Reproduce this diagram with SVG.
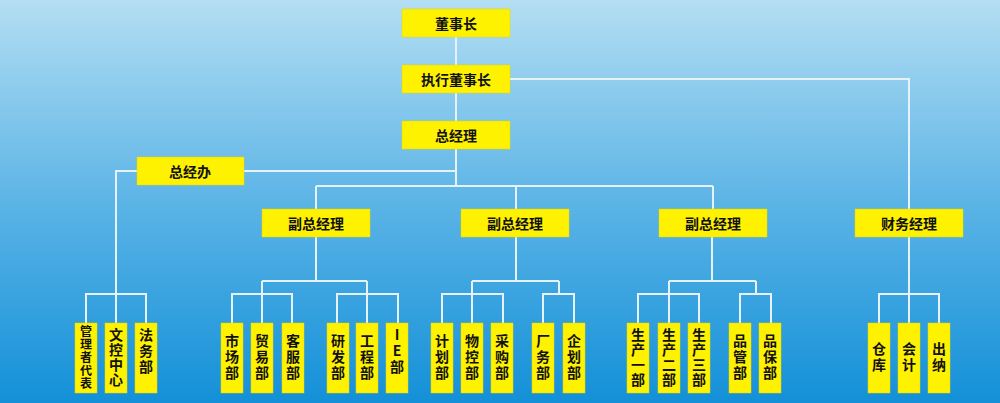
<svg xmlns="http://www.w3.org/2000/svg" width="1000" height="403" viewBox="0 0 1000 403">
<defs>
<linearGradient id="bg" x1="0" y1="0" x2="0" y2="1">
<stop offset="0" stop-color="#b4def3"/><stop offset="0.5" stop-color="#5cb4e6"/><stop offset="1" stop-color="#1390d8"/>
</linearGradient>
<style>
.b{fill:#fff200;stroke:#e8d800;stroke-width:0.5}
.t{font-family:"Noto Sans CJK SC","Liberation Sans",sans-serif;font-weight:bold;font-size:14px;fill:#111;text-anchor:middle;dominant-baseline:central}
.v{font-family:"Noto Sans CJK SC","Liberation Sans",sans-serif;font-weight:bold;font-size:14px;fill:#111;text-anchor:middle;writing-mode:vertical-rl;text-orientation:upright;letter-spacing:2px}
.l{fill:none;stroke:#e6f2fa;stroke-width:2}
</style>
</defs>
<rect width="1000" height="403" fill="url(#bg)"/>
<g id="connectors" class="l">
<path d="M456 37V65M456 93V121M510 79H909V209M456 149V186M456 171H116V294M316 186H713M316 186V209M516 186V209M713 186V209"/>
<path d="M86 323V294H146V323M116 294V323"/>
<path d="M316 237V281M262 281H367M232 323V294H292V323M262 281V323M337 323V294H398V323M367 281V323"/>
<path d="M516 237V281M472 281H559M442 323V294H503V323M472 281V323M543 323V294H574V323M559 281V294"/>
<path d="M712 237V281M669 281H756M638 323V294H699V323M669 281V323M740 323V294H771V323M756 281V294"/>
<path d="M909 237V294M879 323V294H939V323M909 294V323"/>
</g>
<g id="n1"><rect class="b" x="402" y="9" width="108" height="28"/><text class="t" x="456" y="23">董事长</text></g>
<g id="n2"><rect class="b" x="402" y="65" width="108" height="28"/><text class="t" x="456" y="79">执行董事长</text></g>
<g id="n3"><rect class="b" x="402" y="121" width="108" height="28"/><text class="t" x="456" y="135">总经理</text></g>
<g id="n4"><rect class="b" x="137" y="157" width="107" height="28"/><text class="t" x="190" y="171">总经办</text></g>
<g id="n5"><rect class="b" x="262" y="209" width="108" height="28"/><text class="t" x="316" y="223">副总经理</text></g>
<g id="n6"><rect class="b" x="461" y="209" width="108" height="28"/><text class="t" x="515" y="223">副总经理</text></g>
<g id="n7"><rect class="b" x="659" y="209" width="108" height="28"/><text class="t" x="713" y="223">副总经理</text></g>
<g id="n8"><rect class="b" x="855" y="209" width="108" height="28"/><text class="t" x="909" y="223">财务经理</text></g>
<g id="d1"><rect class="b" x="75" y="323" width="22" height="70"/><text class="v" x="86" y="358" style="font-size:12px;letter-spacing:1px">管理者代表</text></g>
<g id="d2"><rect class="b" x="105" y="323" width="22" height="70"/><text class="v" x="116" y="358" style="font-size:14px;letter-spacing:1px">文控中心</text></g>
<g id="d3"><rect class="b" x="135" y="323" width="22" height="70"/><text class="v" x="146" y="352">法务部</text></g>
<g id="d4"><rect class="b" x="221" y="323" width="22" height="70"/><text class="v" x="232" y="358">市场部</text></g>
<g id="d5"><rect class="b" x="251" y="323" width="22" height="70"/><text class="v" x="262" y="358">贸易部</text></g>
<g id="d6"><rect class="b" x="282" y="323" width="22" height="70"/><text class="v" x="293" y="358">客服部</text></g>
<g id="d7"><rect class="b" x="327" y="323" width="22" height="70"/><text class="v" x="338" y="358">研发部</text></g>
<g id="d8"><rect class="b" x="356" y="323" width="22" height="70"/><text class="v" x="367" y="358">工程部</text></g>
<g id="d9"><rect class="b" x="386" y="323" width="22" height="70"/><text class="v" x="397" y="352">IE部</text></g>
<g id="d10"><rect class="b" x="431" y="323" width="22" height="70"/><text class="v" x="442" y="358">计划部</text></g>
<g id="d11"><rect class="b" x="461" y="323" width="22" height="70"/><text class="v" x="472" y="358">物控部</text></g>
<g id="d12"><rect class="b" x="491" y="323" width="22" height="70"/><text class="v" x="502" y="358">采购部</text></g>
<g id="d13"><rect class="b" x="532" y="323" width="22" height="70"/><text class="v" x="543" y="358">厂务部</text></g>
<g id="d14"><rect class="b" x="563" y="323" width="22" height="70"/><text class="v" x="574" y="358">企划部</text></g>
<g id="d15"><rect class="b" x="627" y="323" width="22" height="70"/><text class="v" x="638" y="358" style="letter-spacing:1px">生产一部</text></g>
<g id="d16"><rect class="b" x="658" y="323" width="22" height="70"/><text class="v" x="669" y="358" style="letter-spacing:1px">生产二部</text></g>
<g id="d17"><rect class="b" x="688" y="323" width="22" height="70"/><text class="v" x="699" y="358" style="letter-spacing:1px">生产三部</text></g>
<g id="d18"><rect class="b" x="729" y="323" width="22" height="70"/><text class="v" x="740" y="358">品管部</text></g>
<g id="d19"><rect class="b" x="759" y="323" width="22" height="70"/><text class="v" x="770" y="358">品保部</text></g>
<g id="d20"><rect class="b" x="868" y="323" width="22" height="70"/><text class="v" x="879" y="358">仓库</text></g>
<g id="d21"><rect class="b" x="898" y="323" width="22" height="70"/><text class="v" x="909" y="358">会计</text></g>
<g id="d22"><rect class="b" x="928" y="323" width="22" height="70"/><text class="v" x="939" y="358">出纳</text></g>
</svg>
